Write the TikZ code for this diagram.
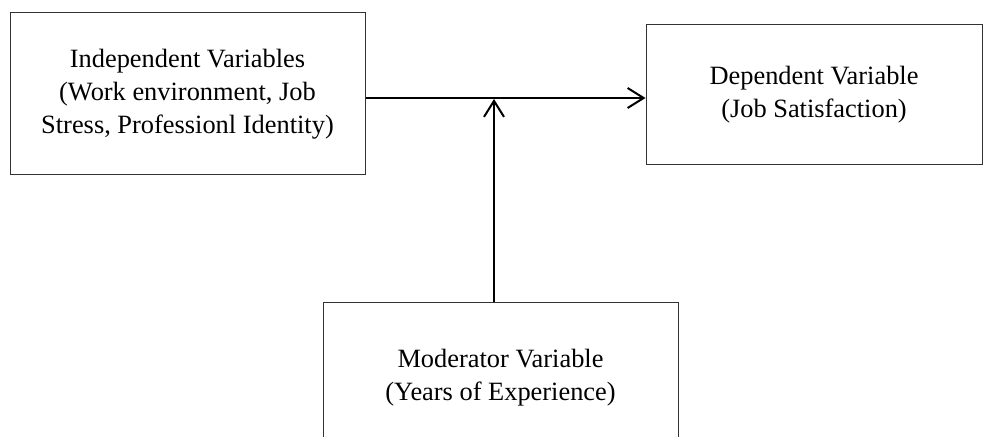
\documentclass[tikz,border=0pt]{standalone}
\usepackage{fontspec}
\setmainfont{Liberation Serif}
\usetikzlibrary{arrows.meta}

\begin{document}
\begin{tikzpicture}[x=0.5pt,y=-0.5pt,auto]
	\tikzstyle{block} = [rectangle, draw=black!80, line width=0.5pt, align=center, font=\fontsize{13.2}{16.5}\selectfont, inner sep=0pt];
	\tikzstyle{link} = [draw=black, line width=1pt, -{Straight Barb[length=8pt,width=10pt,line width=1pt]}];
	\path[use as bounding box, clip] (0,0) rectangle (989,437);
	\draw node [block, minimum width=177.5pt, minimum height=81pt] at (187.5,94) (indep){Independent Variables\\(Work environment, Job\\Stress, Professionl Identity)};
	\draw node [block, minimum width=168pt, minimum height=70pt] at (814,95) (dep){Dependent Variable\\(Job Satisfaction)};
	\draw node [block, minimum width=177.5pt, minimum height=75pt] at (500.5,378) (moder){Moderator Variable\\(Years of Experience)};
	\coordinate (meet) at (494,98);
	
	\draw [link] (indep.east |- meet) -- (dep.west |- meet);
	\draw [link] (moder.north -| meet) -- ([yshift=-0.5pt]meet);
\end{tikzpicture}
\end{document}
